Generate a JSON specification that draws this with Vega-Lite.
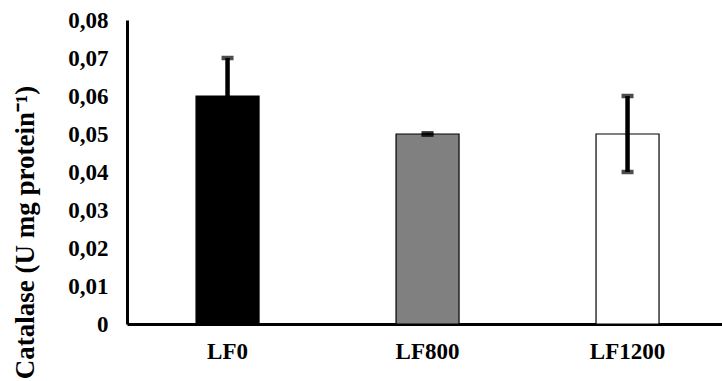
{
  "$schema": "https://vega.github.io/schema/vega-lite/v6.json",
  "autosize": "none",
  "width": 595,
  "height": 304,
  "padding": {"left": 127, "top": 20, "right": 0, "bottom": 57},
  "background": "white",
  "config": {
    "view": {"stroke": null},
    "font": "Liberation Serif",
    "axis": {
      "labelFont": "Liberation Serif",
      "labelFontWeight": "bold",
      "labelColor": "black",
      "labelOverlap": false,
      "titleFont": "Liberation Serif",
      "titleFontWeight": "bold",
      "titleColor": "black",
      "domainColor": "black",
      "domainWidth": 3,
      "ticks": false,
      "grid": false
    },
    "axisX": {
      "labelFontSize": 23,
      "labelPadding": 16
    },
    "axisY": {
      "values": [0, 0.01, 0.02, 0.03, 0.04, 0.05, 0.06, 0.07, 0.08],
      "labelExpr": "datum.value == 0 ? '0' : replace(format(datum.value, '.2f'), '.', ',')",
      "labelFontSize": 23,
      "labelPadding": 19,
      "titleFontSize": 27,
      "titleAngle": -90,
      "titleAlign": "center",
      "titleBaseline": "alphabetic",
      "titleX": -94,
      "titleY": 212
    }
  },
  "data": {
    "values": [
      {"group": "LF0", "mean": 0.06, "lo": 0.05, "hi": 0.07},
      {"group": "LF800", "mean": 0.05, "lo": 0.0498, "hi": 0.0502},
      {"group": "LF1200", "mean": 0.05, "lo": 0.04, "hi": 0.06}
    ]
  },
  "encoding": {
    "x": {
      "field": "group",
      "type": "nominal",
      "sort": null,
      "scale": {"paddingInner": 0.685, "paddingOuter": 0.33, "align": 0.523},
      "axis": {"title": null, "labelAngle": 0}
    }
  },
  "layer": [
    {
      "mark": {"type": "bar", "stroke": "black", "strokeWidth": 1.2},
      "encoding": {
        "y": {
          "field": "mean",
          "type": "quantitative",
          "scale": {"domain": [0, 0.08], "nice": false},
          "title": "Catalase (U mg protein⁻¹)"
        },
        "fill": {
          "field": "group",
          "type": "nominal",
          "scale": {"domain": ["LF0", "LF800", "LF1200"], "range": ["#000000", "#808080", "#ffffff"]},
          "legend": null
        }
      }
    },
    {
      "mark": {"type": "rule", "color": "black", "strokeWidth": 4.5},
      "encoding": {
        "y": {"field": "lo", "type": "quantitative", "title": "Catalase (U mg protein⁻¹)"},
        "y2": {"field": "hi"}
      }
    },
    {
      "mark": {"type": "tick", "color": "black", "size": 12, "thickness": 4.5},
      "encoding": {
        "y": {"field": "lo", "type": "quantitative", "title": "Catalase (U mg protein⁻¹)"}
      }
    },
    {
      "mark": {"type": "tick", "color": "black", "size": 12, "thickness": 4.5},
      "encoding": {
        "y": {"field": "hi", "type": "quantitative", "title": "Catalase (U mg protein⁻¹)"}
      }
    }
  ]
}
